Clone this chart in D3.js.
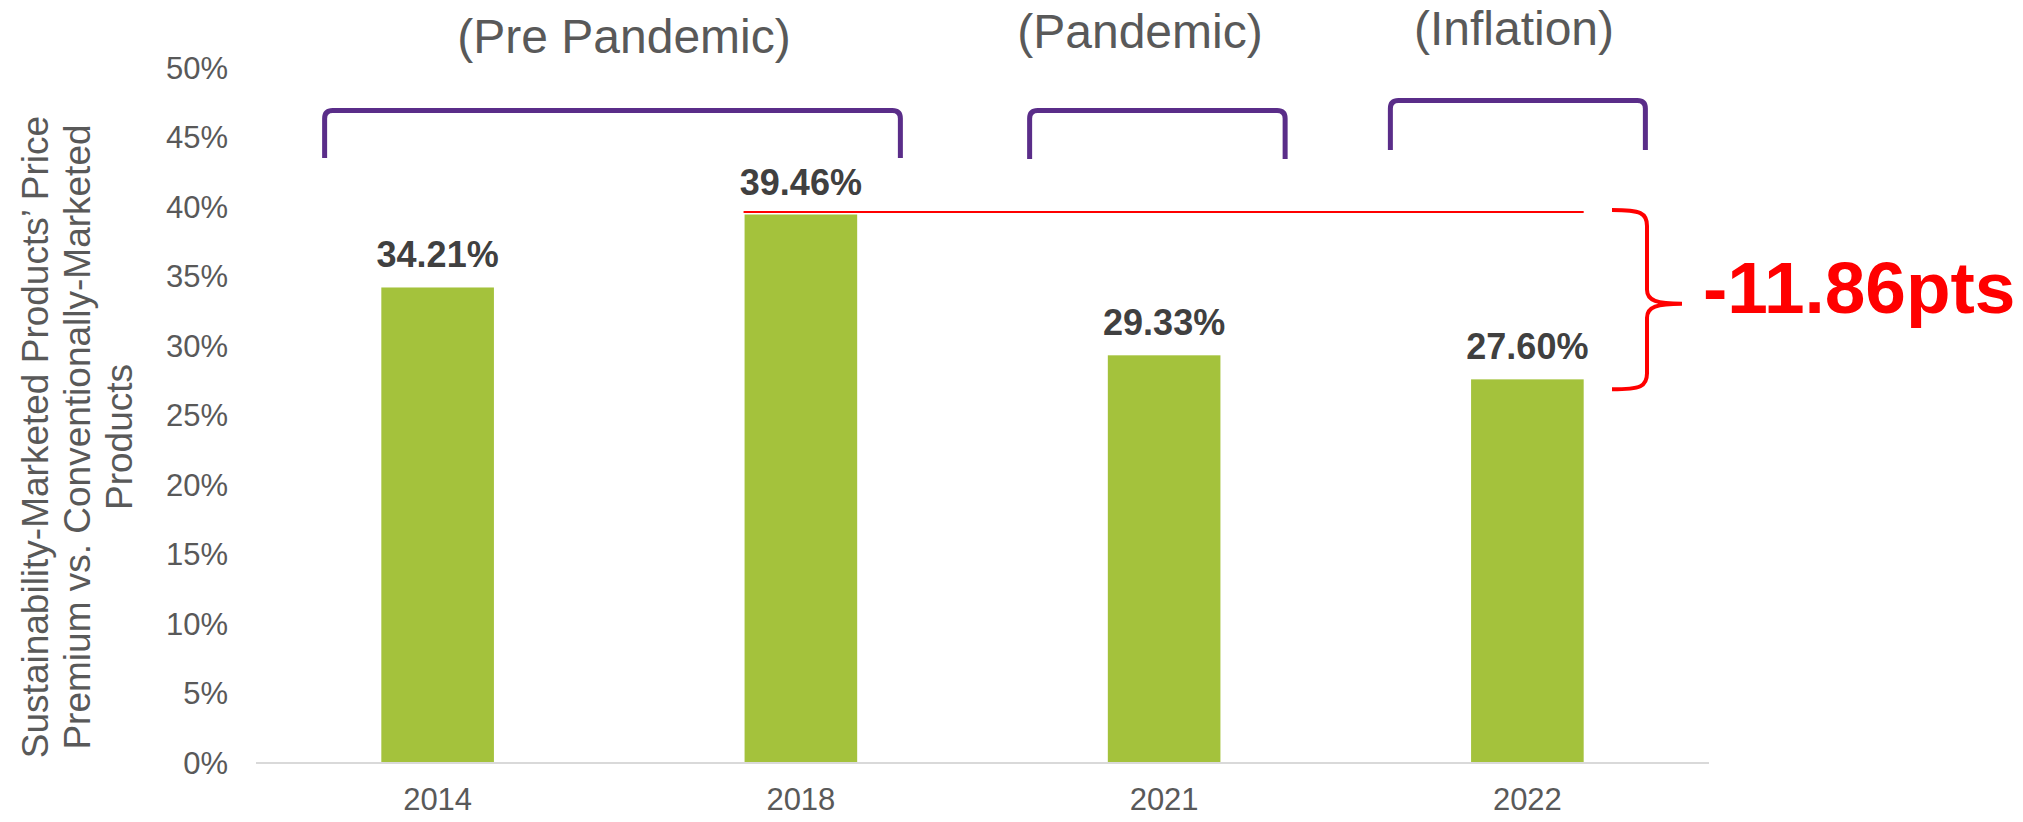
<!DOCTYPE html>
<html>
<head>
<meta charset="utf-8">
<script src="https://cdn.jsdelivr.net/npm/d3@7"></script>
<style>
  html, body { margin: 0; padding: 0; background: #ffffff; }
  svg { display: block; font-family: "Liberation Sans", Arial, sans-serif; }
</style>
</head>
<body>
<svg id="chart" width="2023" height="822"></svg>
<script>
// ---- data ----
const categories = ["2014", "2018", "2021", "2022"];
const values = [34.21, 39.46, 29.33, 27.60];
const valueLabels = ["34.21%", "39.46%", "29.33%", "27.60%"];
const yTicks = [0, 5, 10, 15, 20, 25, 30, 35, 40, 45, 50];
const periodLabels = ["(Pre Pandemic)", "(Pandemic)", "(Inflation)"];
const periodFrom = ["2014", "2021", "2022"];
const periodTo = ["2018", "2021", "2022"];
const yTitleLines = ["Sustainability-Marketed Products\u2019 Price", "Premium vs. Conventionally-Marketed", "Products"];
const changeLabel = "-11.86pts";
const changeFrom = "2018";
const changeTo = "2022";

// ---- layout ----
const svg = d3.select("#chart");
const x = d3.scaleBand().domain(categories).range([256, 1709]).paddingInner(0.69).paddingOuter(0.345);
const y = d3.scaleLinear().domain([0, 50]).range([763, 68]);
const cx = c => x(c) + x.bandwidth() / 2;

const gray = "#595959";
const green = "#a4c23c";
const purple = "#5a2d89";
const red = "#ff0000";

// y tick labels
svg.append("g").selectAll("text").data(yTicks).join("text")
  .attr("x", 228).attr("y", d => y(d)).attr("dy", "0.35em")
  .attr("text-anchor", "end").attr("fill", gray)
  .style("font-size", "31px")
  .text(d => d + "%");

// y title
const yt = svg.append("g").attr("transform", "translate(0,437)");
yTitleLines.forEach((t, i) => {
  yt.append("text")
    .attr("transform", `translate(${48 + i * 42},0) rotate(-90)`)
    .attr("text-anchor", "middle").attr("fill", gray)
    .style("font-size", "37px")
    .text(t);
});

// bars
svg.append("g").selectAll("rect").data(categories).join("rect")
  .attr("x", d => x(d)).attr("width", x.bandwidth())
  .attr("y", (d, i) => y(values[i])).attr("height", (d, i) => y(0) - y(values[i]))
  .attr("fill", green);

// x axis line
svg.append("line")
  .attr("x1", x.range()[0]).attr("x2", x.range()[1])
  .attr("y1", y(0)).attr("y2", y(0))
  .attr("stroke", "#d9d9d9").attr("stroke-width", 2);

// x labels
svg.append("g").selectAll("text").data(categories).join("text")
  .attr("x", d => cx(d)).attr("y", 810)
  .attr("text-anchor", "middle").attr("fill", gray)
  .style("font-size", "31px")
  .text(d => d);

// value labels
svg.append("g").selectAll("text").data(categories).join("text")
  .attr("x", d => cx(d)).attr("y", (d, i) => y(values[i]) - 20)
  .attr("text-anchor", "middle").attr("fill", "#404040")
  .style("font-size", "36px").style("font-weight", "bold")
  .text((d, i) => valueLabels[i]);

// period brackets
const bracketGeom = [
  { l: -113, r: 99.5, top: 110.5, bot: 158, lx: 624, ly: 53 },
  { l: -134.5, r: 121, top: 110.5, bot: 159, lx: 1140, ly: 48 },
  { l: -137, r: 118, top: 100.5, bot: 150, lx: 1514, ly: 45 }
];
periodLabels.forEach((lab, i) => {
  const g = bracketGeom[i];
  const x0 = cx(periodFrom[i]) + g.l, x1 = cx(periodTo[i]) + g.r;
  const r = 8;
  svg.append("path")
    .attr("d", `M${x0},${g.bot} L${x0},${g.top + r} Q${x0},${g.top} ${x0 + r},${g.top} L${x1 - r},${g.top} Q${x1},${g.top} ${x1},${g.top + r} L${x1},${g.bot}`)
    .attr("fill", "none").attr("stroke", purple).attr("stroke-width", 5);
  svg.append("text")
    .attr("x", g.lx).attr("y", g.ly)
    .attr("text-anchor", "middle").attr("fill", gray)
    .style("font-size", "48px")
    .text(lab);
});

// red reference line
const fromIdx = categories.indexOf(changeFrom), toIdx = categories.indexOf(changeTo);
const lineY = y(values[fromIdx]) - 2.5;
svg.append("line")
  .attr("x1", x(changeFrom) - 1).attr("x2", x(changeTo) + x.bandwidth())
  .attr("y1", lineY).attr("y2", lineY)
  .attr("stroke", red).attr("stroke-width", 2);

// red brace
const bTop = y(values[fromIdx]) - 4.5;
const bBot = y(values[toIdx]) + 10;
const bMid = (bTop + bBot) / 2 + 4;
const bx0 = 1612, bs = 1647, bt = 1682;
svg.append("path")
  .attr("d",
    `M${bx0},${bTop} C${bs - 6},${bTop} ${bs},${bTop + 3} ${bs},${bTop + 16} ` +
    `L${bs},${bMid - 14} C${bs},${bMid - 3} ${bs + 10},${bMid} ${bt},${bMid} ` +
    `M${bt},${bMid} C${bs + 10},${bMid} ${bs},${bMid + 3} ${bs},${bMid + 14} ` +
    `L${bs},${bBot - 16} C${bs},${bBot - 3} ${bs - 6},${bBot} ${bx0},${bBot}`)
  .attr("fill", "none").attr("stroke", red).attr("stroke-width", 4);

svg.append("text")
  .attr("x", 1703).attr("y", 313)
  .attr("fill", red)
  .style("font-size", "73px").style("font-weight", "bold")
  .text(changeLabel);
</script>
</body>
</html>
